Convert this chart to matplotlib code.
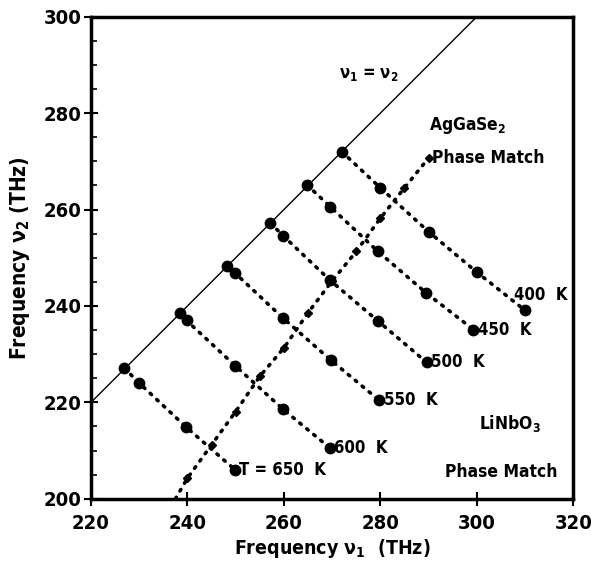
import matplotlib
matplotlib.use("Agg")
import matplotlib.pyplot as plt
from matplotlib.ticker import MultipleLocator

# ------------------------------------------------------------------
# Data (THz)
# ------------------------------------------------------------------
temps = [400, 450, 500, 550, 600, 650]
nu1_400 = [272, 280, 290, 300, 310]
nu2_400 = [272, 264.5, 255.4, 247, 239.1]
nu1_450 = [264.8, 269.6, 279.5, 289.5, 299.3]
nu2_450 = [265.1, 260.6, 251.3, 242.7, 235.1]
nu1_500 = [257.2, 259.8, 269.6, 279.6, 289.6]
nu2_500 = [257.2, 254.6, 245.3, 236.8, 228.3]
nu1_550 = [248.3, 249.9, 259.8, 269.7, 279.8]
nu2_550 = [248.3, 246.8, 237.5, 228.8, 220.4]
nu1_600 = [238.5, 239.8, 249.9, 259.8, 269.6]
nu2_600 = [238.5, 237.0, 227.6, 218.6, 210.5]
nu1_650 = [226.9, 230.0, 239.7, 249.9]
nu2_650 = [227.1, 224.0, 214.9, 206.0]

# AgGaSe2 phase match curve
pm_nu1 = [237.5, 240, 245, 250, 255, 260, 265, 270, 275, 280, 285, 290]
pm_nu2 = [200.0, 204.3, 211.2, 218.1, 225.4, 231.3, 238.6, 245.2, 251.3, 258.2, 264.5, 270.7]

# nu1 = nu2 line
diag = [220, 300]

series = [(nu1_400, nu2_400), (nu1_450, nu2_450), (nu1_500, nu2_500),
          (nu1_550, nu2_550), (nu1_600, nu2_600), (nu1_650, nu2_650)]
labels = ["400  K", "450  K", "500  K", "550  K", "600  K", "T = 650  K"]

plt.rcParams["font.family"] = ["DejaVu Sans"]
plt.rcParams["font.stretch"] = "condensed"
plt.rcParams["mathtext.fontset"] = "custom"
plt.rcParams["mathtext.rm"] = "DejaVu Sans:weight=bold:stretch=condensed"
plt.rcParams["mathtext.bf"] = "DejaVu Sans:weight=bold:stretch=condensed"
plt.rcParams["mathtext.it"] = "DejaVu Sans:weight=bold:stretch=condensed"

fig = plt.figure(figsize=(5.91, 5.76), dpi=100)
ax = fig.add_axes([0.154, 0.134, 0.816, 0.837])

ax.plot(diag, diag, color="black", lw=1.0)

for (x, y) in series:
    ax.plot(x, y, color="black", lw=2.6, linestyle=(0, (0.5, 2.0)),
            dash_capstyle="round", marker="o", ms=7.5, mfc="black", mec="black")

ax.plot(pm_nu1, pm_nu2, color="black", lw=2.6, linestyle=(0, (0.5, 2.0)),
        dash_capstyle="round", marker="D", ms=4.5, markevery=list(range(1, len(pm_nu1))))

# temperature labels
for i, ((x, y), lab) in enumerate(zip(series, labels)):
    if i == 0:
        ax.annotate(lab, (x[-1], y[-1]), xytext=(-8, 11), textcoords="offset points",
                    fontsize=12, fontweight="bold", va="center", ha="left")
    else:
        ax.annotate(lab, (x[-1], y[-1]), xytext=(3, 0), textcoords="offset points",
                    fontsize=12, fontweight="bold", va="center", ha="left")

ax.text(271.5, 287.3, r"$\nu_1$ = $\nu_2$", fontsize=12, fontweight="bold")
ax.text(290, 276.5, r"AgGaSe$_2$", fontsize=12.5, fontweight="bold")
ax.text(290.8, 270.7, "Phase Match", fontsize=12.5, fontweight="bold", va="center")
ax.text(300.5, 214.5, r"LiNbO$_3$", fontsize=12.5, fontweight="bold")
ax.text(293.3, 205.5, "Phase Match", fontsize=12.5, fontweight="bold", va="center")

ax.set_xlim(220, 320)
ax.set_ylim(200, 300)
ax.set_xticks([220, 240, 260, 280, 300, 320])
ax.set_yticks([200, 220, 240, 260, 280, 300])
ax.yaxis.set_minor_locator(MultipleLocator(5))
ax.tick_params(axis="both", which="major", direction="inout", length=10, width=1.5,
               labelsize=14.5, pad=6)
ax.tick_params(axis="y", which="minor", direction="in", length=4, width=1.2)
ax.tick_params(axis="y", which="major", pad=2)
for lab in ax.get_xticklabels() + ax.get_yticklabels():
    lab.set_fontweight("bold")
for s in ax.spines.values():
    s.set_linewidth(2.5)

ax.set_xlabel(r"Frequency $\nu_1$  (THz)", fontsize=14, fontweight="bold", labelpad=3)
ax.set_ylabel(r"Frequency $\nu_2$ (THz)", fontsize=15, fontweight="bold", labelpad=8)

fig.savefig("out.png", dpi=100)
